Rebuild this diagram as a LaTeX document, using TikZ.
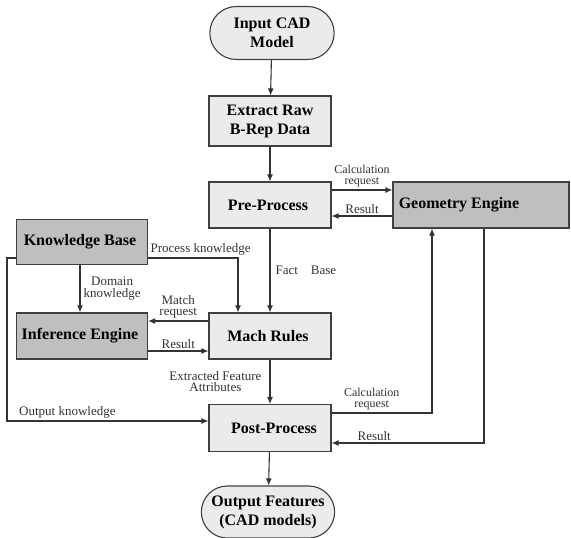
\documentclass[tikz,border=0pt]{standalone}
\usepackage{fontspec}
\setmainfont{Liberation Serif}
\usepackage{tikz}
\usetikzlibrary{arrows.meta,positioning,calc,shapes.misc}
\tikzset{
  terminal node/.style={
    rounded rectangle,
    draw=black!75,
    fill=black!8,
    line width=1.1pt,
    minimum width=131pt,
    minimum height=53pt,
    align=center,
    font=\fontsize{16}{19}\selectfont\bfseries
  }
}
\tikzset{
  step node/.style={
    rectangle,
    draw=black!75,
    fill=black!8,
    line width=1.1pt,
    minimum width=122pt,
    minimum height=46pt,
    align=center,
    font=\fontsize{16}{19}\selectfont\bfseries
  }
}
\tikzset{
  engine node/.style={
    rectangle,
    draw=black!75,
    fill=black!25,
    line width=1.1pt,
    minimum width=131pt,
    minimum height=46pt,
    align=center,
    font=\fontsize{16}{19}\selectfont\bfseries
  }
}
\tikzset{
  relation/.style={
    -{Latex[length=7pt,width=6pt]},
    draw=black!80,
    line width=1.1pt
  }
}
\tikzset{
  relation label/.style={
    inner sep=2pt,
    align=center,
    text=black!80,
    font=\fontsize{13}{11.5}\selectfont
  }
}

\begin{document}
\begin{tikzpicture}[x=1pt,y=-1pt]

    \useasboundingbox (0,0) rectangle (571,538);

    % ------------------------------------------------------------
    % Nodes
    % ------------------------------------------------------------

    \node[terminal node] (input) at (272,33)
    {
      Input CAD\\
      Model
    };

    \node[step node, minimum height=50pt] (extract) at (270,121)
    {
      Extract Raw\\
      B-Rep Data
    };

    \node[step node] (pre) at (270,205)
    {
      Pre-Process
    };

    \node[engine node, minimum width=176pt] (geometry) at (481,205)
    {
      Geometry Engine\hspace*{40pt}
    };

    \node[engine node, minimum height=45pt] (knowledge) at (82,242)
    {
      Knowledge Base
    };

    \node[engine node] (inference) at (82,336)
    {
      Inference Engine
    };

    \node[step node] (mach) at (270,336)
    {
      Mach Rules
    };

    \node[step node, minimum height=47pt] (post) at (270,428)
    {
      \hspace*{12pt}Post-Process
    };

    \node[terminal node, minimum width=140pt, minimum height=52pt] (output) at (268,512)
    {
      Output Features\\
      (CAD models)
    };

    % ------------------------------------------------------------
    % Main flow
    % ------------------------------------------------------------

    \draw[relation] (input) -- (extract);

    \draw[relation] (extract) -- (pre);

    \draw[relation]
      (pre)
      --
      node[relation label, right=3pt, pos=0.5] {Fact\quad Base}
      (mach);

    \draw[relation]
      (mach)
      --
      node[relation label, left=6pt, pos=0.5] {Extracted Feature\\Attributes}
      (post);

    \draw[relation] (post) -- (output);

    % ------------------------------------------------------------
    % Geometry engine
    % ------------------------------------------------------------

    \draw[relation]
      ([yshift=15pt]pre.east)
      --
      node[relation label, above, font=\fontsize{12}{11}\selectfont] {Calculation\\request}
      ([yshift=15pt]geometry.west);

    \draw[relation]
      ([yshift=-11pt]geometry.west)
      --
      node[relation label, above] {Result}
      ([yshift=-11pt]pre.east);

    \draw[relation]
      ([yshift=15pt]post.east)
      -|
      node[relation label, above, pos=0.2, font=\fontsize{12}{11}\selectfont] {Calculation\\request}
      ([xshift=-49pt]geometry.south);

    \draw[relation]
      ([xshift=3pt]geometry.south)
      |-
      node[relation label, above, pos=0.86] {Result}
      ([yshift=-15pt]post.east);

    % ------------------------------------------------------------
    % Knowledge and inference
    % ------------------------------------------------------------

    \draw[relation]
      ([yshift=-16pt]knowledge.east)
      -|
      node[relation label, above right, pos=0] {Process knowledge}
      ([xshift=-32pt]mach.north);

    \draw[relation]
      ([xshift=-2pt]knowledge.south)
      --
      node[relation label, right=1pt, pos=0.5] {Domain\\knowledge}
      ([xshift=-2pt]inference.north);

    \draw[relation]
      ([yshift=-16pt]knowledge.west)
      -- ++(-9,0)
      |-
      node[relation label, above, pos=0.65] {Output knowledge}
      ([yshift=7pt]post.west);

    \draw[relation]
      ([yshift=15pt]mach.west)
      --
      node[relation label, above] {Match\\request}
      ([yshift=15pt]inference.east);

    \draw[relation]
      ([yshift=-15pt]inference.east)
      --
      node[relation label, above] {Result}
      ([yshift=-15pt]mach.west);

    \end{tikzpicture}
\end{document}
